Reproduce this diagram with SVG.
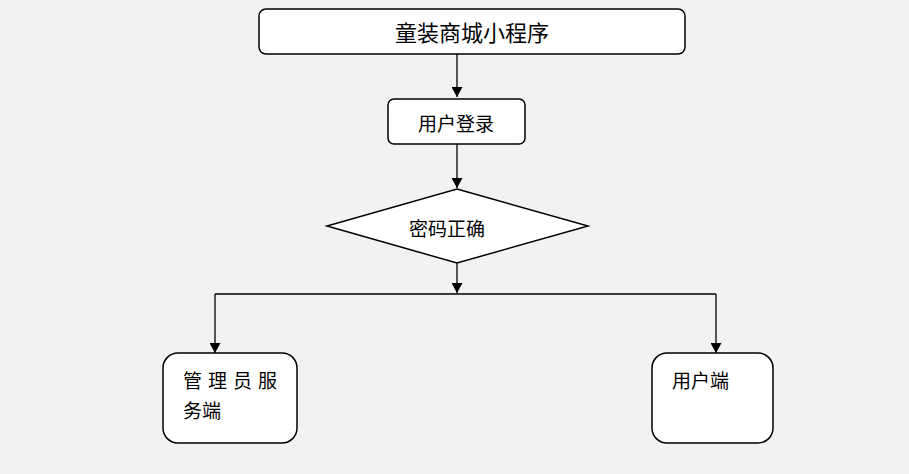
<svg xmlns="http://www.w3.org/2000/svg" width="909" height="474" viewBox="0 0 909 474">
<style>
.box{fill:#fff;stroke:#000;stroke-width:1.5}
.t{font-family:"Noto Sans CJK SC","Noto Sans",sans-serif;fill:#000}
.c{fill:none;stroke:#000;stroke-width:1.3}
</style>
<defs>
<marker id="ah" markerUnits="userSpaceOnUse" markerWidth="11" markerHeight="11" refX="10" refY="5.5" orient="auto">
<path d="M0,0 L10,5.5 L0,11 z" fill="#000"/>
</marker>
</defs>
<rect width="909" height="474" fill="#f2f2f2"/>
<g id="connectors">
<line class="c" x1="457" y1="54" x2="457" y2="97" marker-end="url(#ah)"/>
<line class="c" x1="457" y1="144" x2="457" y2="188" marker-end="url(#ah)"/>
<line class="c" x1="457" y1="263" x2="457" y2="293" marker-end="url(#ah)"/>
<line class="c" x1="215" y1="294" x2="716" y2="294"/>
<line class="c" x1="215" y1="294" x2="215" y2="353" marker-end="url(#ah)"/>
<line class="c" x1="716" y1="294" x2="716" y2="353" marker-end="url(#ah)"/>
</g>
<g id="node-app">
<rect class="box" x="259" y="9" width="426" height="45" rx="7"/>
<text class="t" x="472" y="41" font-size="22" text-anchor="middle">童装商城小程序</text>
</g>
<g id="node-login">
<rect class="box" x="388" y="99" width="137" height="45" rx="6"/>
<text class="t" x="456" y="131" font-size="19" text-anchor="middle">用户登录</text>
</g>
<g id="node-check">
<polygon class="box" points="457,189 588,226 457,263 327,226"/>
<text class="t" x="447" y="236" font-size="19" text-anchor="middle">密码正确</text>
</g>
<g id="node-admin">
<rect class="box" x="163" y="353" width="134" height="90" rx="15"/>
<text class="t" font-size="19"><tspan x="183" y="388">管</tspan><tspan x="208" y="388">理</tspan><tspan x="233" y="388">员</tspan><tspan x="258" y="388">服</tspan><tspan x="183" y="418">务端</tspan></text>
</g>
<g id="node-user">
<rect class="box" x="652" y="353" width="121" height="90" rx="15"/>
<text class="t" x="672" y="388" font-size="19">用户端</text>
</g>
</svg>
